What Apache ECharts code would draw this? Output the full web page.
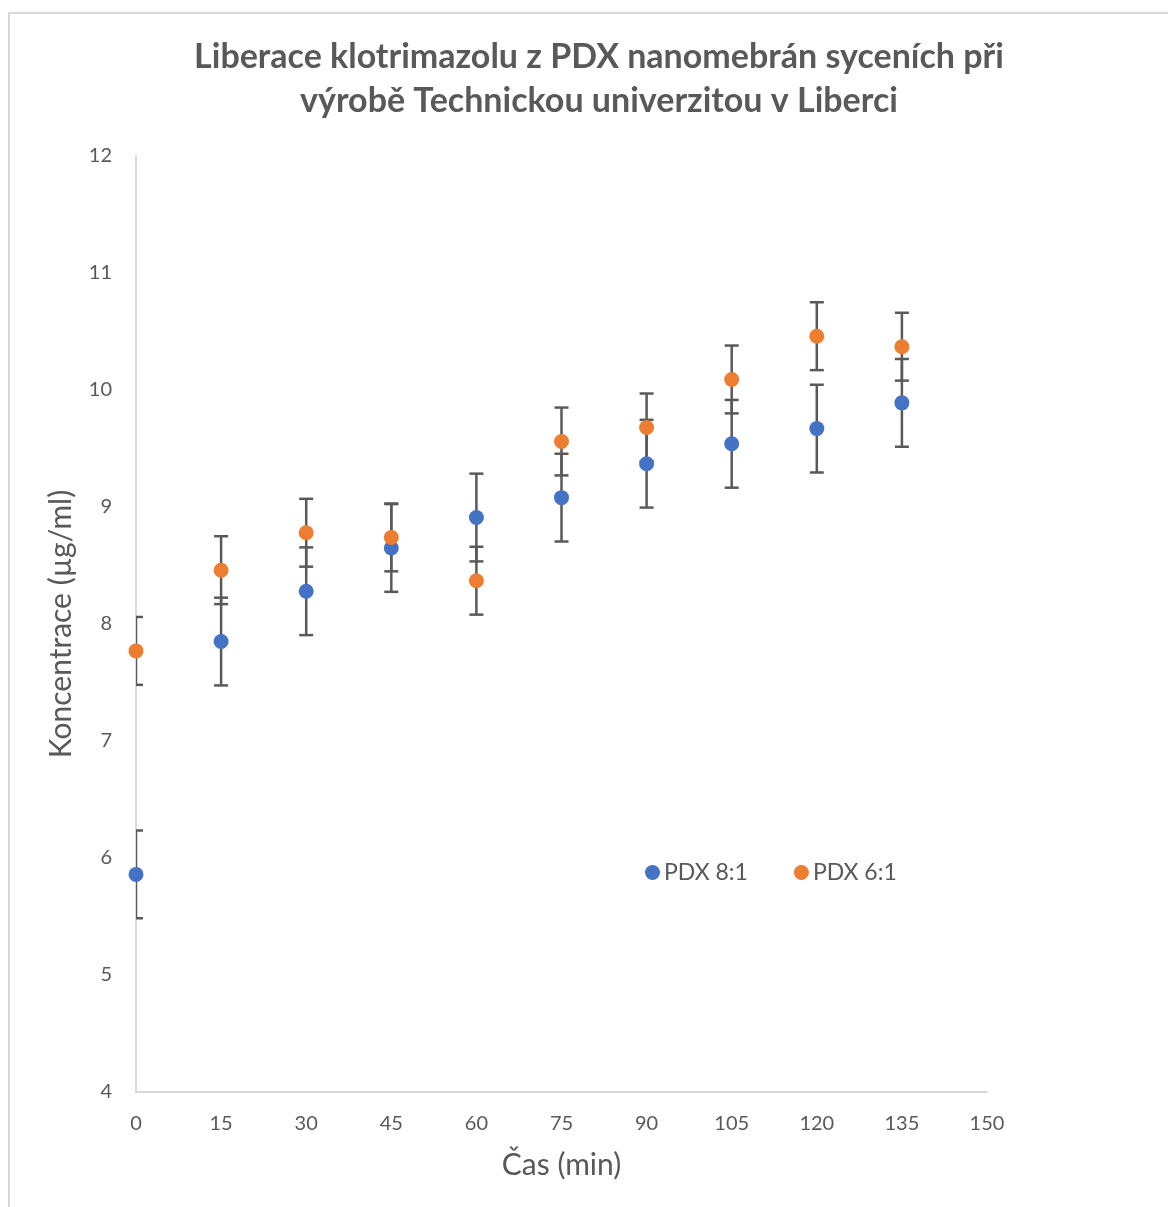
<!DOCTYPE html>
<html>
<head>
<meta charset="utf-8">
<script src="https://cdn.jsdelivr.net/npm/echarts@6/dist/echarts.min.js"></script>
<style>
  body { margin: 0; background: #fff; }
  #frame { position: absolute; left: 8px; top: 12px; width: 1160px; height: 1195px;
           border-left: 2px solid #d9d9d9; border-top: 2px solid #d9d9d9; }
  #chart { position: absolute; left: 0; top: 0; width: 1168px; height: 1207px; }
</style>
</head>
<body>
<div id="frame"></div>
<div id="chart"></div>
<script>
const times = [0, 15, 30, 45, 60, 75, 90, 105, 120, 135];
const pdx81 = [5.86, 7.85, 8.28, 8.65, 8.91, 9.08, 9.37, 9.54, 9.67, 9.89];
const pdx61 = [7.77, 8.46, 8.78, 8.74, 8.37, 9.56, 9.68, 10.09, 10.46, 10.37];
const err81 = [0.375, 0.375, 0.375, 0.375, 0.375, 0.375, 0.375, 0.375, 0.375, 0.375];
const err61 = [0.29, 0.29, 0.29, 0.29, 0.29, 0.29, 0.29, 0.29, 0.29, 0.29];

const chart = echarts.init(document.getElementById('chart'));

const font = 'Lato, "Open Sans", sans-serif';
const textColor = '#595959';

// [x, y, err] triples for error bars
const errData = (vals, errs) => times.map((t, i) => [t, vals[i], errs[i]]);

const renderErr = (params, api) => {
  const x = api.value(0);
  const y = api.value(1);
  const e = api.value(2);
  const top = api.coord([x, y + e]);
  const bot = api.coord([x, y - e]);
  const w = 7;
  const style = { stroke: '#595959', lineWidth: 2.5 };
  return {
    type: 'group',
    children: [
      { type: 'line', shape: { x1: top[0], y1: top[1], x2: bot[0], y2: bot[1] }, style },
      { type: 'line', shape: { x1: top[0] - w, y1: top[1], x2: top[0] + w, y2: top[1] }, style },
      { type: 'line', shape: { x1: bot[0] - w, y1: bot[1], x2: bot[0] + w, y2: bot[1] }, style }
    ]
  };
};

const option = {
  animation: false,
  textStyle: { fontFamily: font },
  title: {
    text: 'Liberace klotrimazolu z PDX nanomebrán syceních při\nvýrobě Technickou univerzitou v Liberci',
    left: 594,
    textAlign: 'center',
    top: 30,
    textStyle: {
      fontFamily: font,
      fontSize: 34,
      fontWeight: 'bold',
      color: textColor,
      lineHeight: 44
    }
  },
  legend: {
    data: ['PDX 8:1', 'PDX 6:1'],
    left: 640,
    top: 856,
    icon: 'circle',
    itemWidth: 15,
    itemHeight: 15,
    itemGap: 46,
    textStyle: { fontFamily: font, fontSize: 23, color: textColor, padding: [0, 0, 0, -1] }
  },
  grid: { left: 136, right: 181, top: 156, bottom: 115 },
  xAxis: {
    type: 'value',
    min: 0,
    max: 150,
    interval: 15,
    name: 'Čas (min)',
    nameLocation: 'middle',
    nameGap: 58,
    nameTextStyle: { fontFamily: font, fontSize: 30, color: textColor },
    axisLine: { show: true, lineStyle: { color: '#d9d9d9', width: 2 } },
    axisTick: { show: false },
    splitLine: { show: false },
    axisLabel: { fontFamily: font, fontSize: 20, color: textColor, margin: 22 }
  },
  yAxis: {
    type: 'value',
    min: 4,
    max: 12,
    interval: 1,
    name: 'Koncentrace (µg/ml)',
    nameLocation: 'middle',
    nameGap: 60,
    nameTextStyle: { fontFamily: font, fontSize: 30, color: textColor },
    axisLine: { show: true, lineStyle: { color: '#d9d9d9', width: 2 } },
    axisTick: { show: false },
    splitLine: { show: false },
    axisLabel: { fontFamily: font, fontSize: 20, color: textColor, margin: 24 }
  },
  series: [
    {
      name: 'err81',
      type: 'custom',
      renderItem: renderErr,
      data: errData(pdx81, err81),
      clip: true,
      z: 1
    },
    {
      name: 'err61',
      type: 'custom',
      renderItem: renderErr,
      data: errData(pdx61, err61),
      clip: true,
      z: 1
    },
    {
      name: 'PDX 8:1',
      type: 'scatter',
      symbolSize: 15,
      itemStyle: { color: '#4472C4', opacity: 1 },
      data: times.map((t, i) => [t, pdx81[i]]),
      z: 3
    },
    {
      name: 'PDX 6:1',
      type: 'scatter',
      symbolSize: 15,
      itemStyle: { color: '#ED7D31', opacity: 1 },
      data: times.map((t, i) => [t, pdx61[i]]),
      z: 4
    }
  ]
};

chart.setOption(option);
</script>
</body>
</html>
